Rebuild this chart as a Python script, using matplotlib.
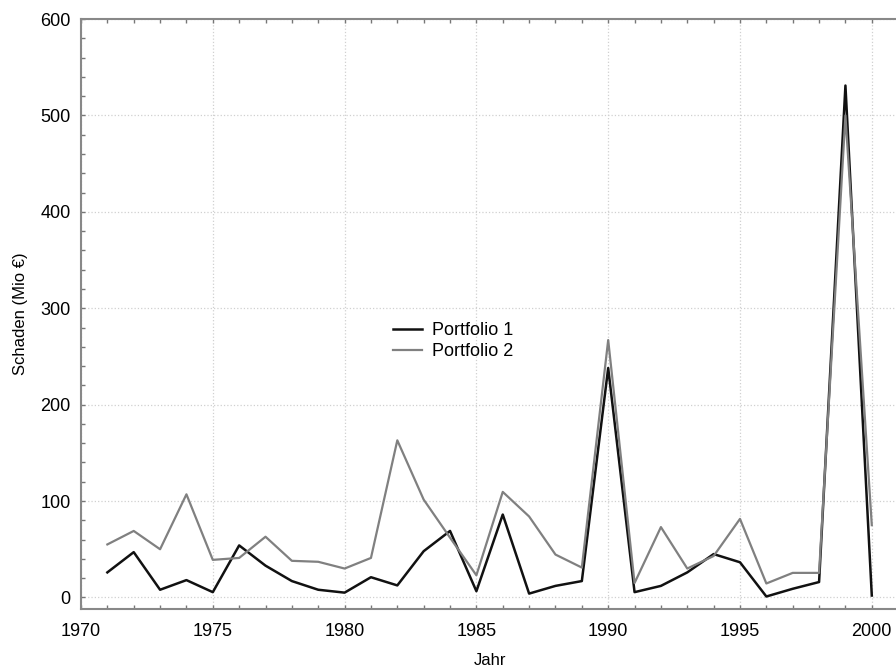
import matplotlib
matplotlib.use("Agg")
import matplotlib.pyplot as plt
from matplotlib.ticker import MultipleLocator

plt.rcParams['font.family'] = ['Liberation Sans', 'DejaVu Sans']

# data
years = list(range(1971, 2001))
portfolio1 = [26, 47, 8, 18, 5.5, 54, 33, 17, 8, 5,
              21, 12.5, 48, 69, 6.5, 86, 4, 12, 17, 238,
              5.5, 12, 26, 45, 36.5, 1, 9, 16, 531, 2]
portfolio2 = [55, 69, 50, 107, 39, 41, 63, 38, 37, 30,
              41, 163, 101.5, 62, 23, 109.5, 84, 44.5, 31, 267,
              15, 73, 30, 43, 81.5, 14.5, 25.5, 25.5, 500, 75]
labels = ['Portfolio 1', 'Portfolio 2']

fig = plt.figure(figsize=(8.96, 6.70), dpi=100)
ax = fig.add_axes([0.0904, 0.091, 0.912, 0.8806])

ax.plot(years, portfolio1, color='#111111', lw=1.8, label=labels[0])
ax.plot(years, portfolio2, color='#808080', lw=1.6, label=labels[1])

ax.set_xlim(1970, 2001)
ax.set_ylim(-12, 600)
ax.xaxis.set_major_locator(MultipleLocator(5))
ax.xaxis.set_minor_locator(MultipleLocator(1))
ax.yaxis.set_major_locator(MultipleLocator(100))
ax.yaxis.set_minor_locator(MultipleLocator(20))
ax.tick_params(which='both', direction='in', length=3, color='#777777',
               top=True, labelsize=13, width=1)
ax.tick_params(axis='x', which='major', pad=10)
ax.tick_params(axis='y', which='major', pad=7.5)
ax.grid(True, which='major', linestyle=':', color='#d0d0d0', lw=0.9)

for s in ax.spines.values():
    s.set_color('#888888')
    s.set_linewidth(1.5)

ax.set_xlabel('Jahr', fontsize=12, labelpad=9.5)
ax.set_ylabel('Schaden (Mio €)', fontsize=12, labelpad=9)

ax.legend(loc='center left', bbox_to_anchor=(0.431, 0.491),
          bbox_transform=fig.transFigure, frameon=False, fontsize=13,
          handlelength=1.6, handletextpad=0.55, labelspacing=0.2,
          borderaxespad=0)

fig.savefig('out.png', dpi=100)
